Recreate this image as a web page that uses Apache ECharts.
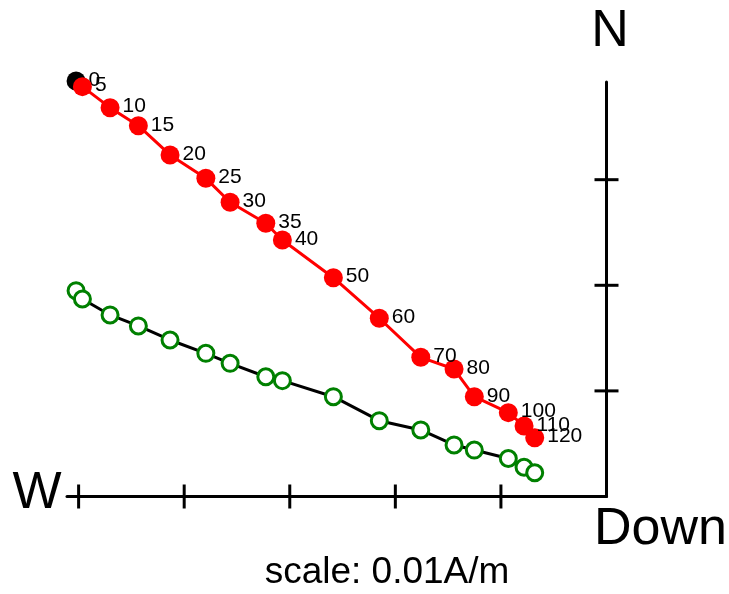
<!DOCTYPE html>
<html>
<head>
<meta charset="utf-8">
<script src="https://cdn.jsdelivr.net/npm/echarts@6/dist/echarts.min.js"></script>
<style>
html,body{margin:0;padding:0;background:#fff;}
#chart{width:729px;height:594px;}
</style>
</head>
<body>
<div id="chart"></div>
<script>
// Demagnetization steps (mT)
var steps = [0, 5, 10, 15, 20, 25, 30, 35, 40, 50, 60, 70, 80, 90, 100, 110, 120];
// Horizontal (E-W) component, units of 0.01 A/m (negative = W)
var east = [-5.024, -4.964, -4.702, -4.434, -4.134, -3.795, -3.565, -3.227, -3.070, -2.587, -2.152, -1.759, -1.444, -1.252, -0.930, -0.781, -0.680];
// North component, units of 0.01 A/m
var north = [3.935, 3.881, 3.682, 3.511, 3.234, 3.013, 2.786, 2.587, 2.429, 2.072, 1.688, 1.318, 1.207, 0.945, 0.794, 0.668, 0.557];
// Vertical component, units of 0.01 A/m
var vertical = [1.949, 1.870, 1.719, 1.615, 1.482, 1.356, 1.261, 1.134, 1.097, 0.945, 0.718, 0.630, 0.488, 0.440, 0.360, 0.277, 0.225];
// Axis tick positions
var xTicks = [-5, -4, -3, -2, -1];
var yTicks = [1, 2, 3];
var scaleText = 'scale: 0.01A/m';

var FONT = '"Liberation Sans", Arial, Helvetica, sans-serif';

var horizData = east.map(function (e, i) { return [e, north[i], steps[i]]; });
var vertData = east.map(function (e, i) { return [e, vertical[i], steps[i]]; });
var xTickData = xTicks.map(function (v) { return [v, 0]; });
var yTickData = yTicks.map(function (v) { return [0, v]; });

var chart = echarts.init(document.getElementById('chart'), null, {renderer: 'canvas'});

var TICK_HALF = 12;
function tickRenderer(horizontalAxis) {
  return function (params, api) {
    var p = api.coord([api.value(0), api.value(1)]);
    var shape = horizontalAxis
      ? {x1: p[0], y1: p[1] - TICK_HALF, x2: p[0], y2: p[1] + TICK_HALF}
      : {x1: p[0] - TICK_HALF, y1: p[1], x2: p[0] + TICK_HALF, y2: p[1]};
    return {type: 'line', shape: shape, style: {stroke: '#000', lineWidth: 3}};
  };
}

var labelStyle = {
  show: true, position: 'right', distance: 3, offset: [0, -1],
  color: '#000', fontSize: 21, fontFamily: FONT,
  formatter: function (p) { return String(p.data[2]); }
};

chart.setOption({
  animation: false,
  backgroundColor: '#fff',
  grid: {left: 67, right: 122.5, top: 82, bottom: 97.5, containLabel: false},
  xAxis: {
    type: 'value', position: 'bottom', min: -5.11, max: 0,
    axisLine: {show: true, onZero: false, lineStyle: {color: '#000', width: 3}},
    axisTick: {show: false}, axisLabel: {show: false}, splitLine: {show: false}
  },
  yAxis: {
    type: 'value', position: 'right', min: 0, max: 3.925,
    axisLine: {show: true, onZero: false, lineStyle: {color: '#000', width: 3}},
    axisTick: {show: false}, axisLabel: {show: false}, splitLine: {show: false}
  },
  series: [
    {type: 'custom', data: xTickData, renderItem: tickRenderer(true), clip: false, z: 1, silent: true},
    {type: 'custom', data: yTickData, renderItem: tickRenderer(false), clip: false, z: 1, silent: true},
    {
      type: 'line', data: vertData, clip: false, z: 2,
      symbol: 'circle', symbolSize: 16, showSymbol: true,
      lineStyle: {color: '#000', width: 3},
      itemStyle: {color: '#fff', borderColor: '#008000', borderWidth: 3, opacity: 1}
    },
    {
      type: 'scatter', data: horizData.slice(0, 1), clip: false, z: 3,
      symbol: 'circle', symbolSize: 19,
      itemStyle: {color: '#000', opacity: 1},
      label: labelStyle
    },
    {
      type: 'line', data: horizData.slice(1), clip: false, z: 4,
      symbol: 'circle', symbolSize: 19, showSymbol: true,
      lineStyle: {color: '#ff0000', width: 3},
      itemStyle: {color: '#ff0000', opacity: 1},
      label: labelStyle
    }
  ],
  graphic: [
    {type: 'text', x: 610, y: 32, style: {text: 'N', fontSize: 52, fontFamily: FONT, fill: '#000', align: 'center', verticalAlign: 'middle'}},
    {type: 'text', x: 37, y: 494, style: {text: 'W', fontSize: 52, fontFamily: FONT, fill: '#000', align: 'center', verticalAlign: 'middle'}},
    {type: 'text', x: 594, y: 530, style: {text: 'Down', fontSize: 52, fontFamily: FONT, fill: '#000', align: 'left', verticalAlign: 'middle'}},
    {type: 'text', x: 387, y: 573, style: {text: scaleText, fontSize: 37, fontFamily: FONT, fill: '#000', align: 'center', verticalAlign: 'middle'}}
  ]
});
</script>
</body>
</html>
